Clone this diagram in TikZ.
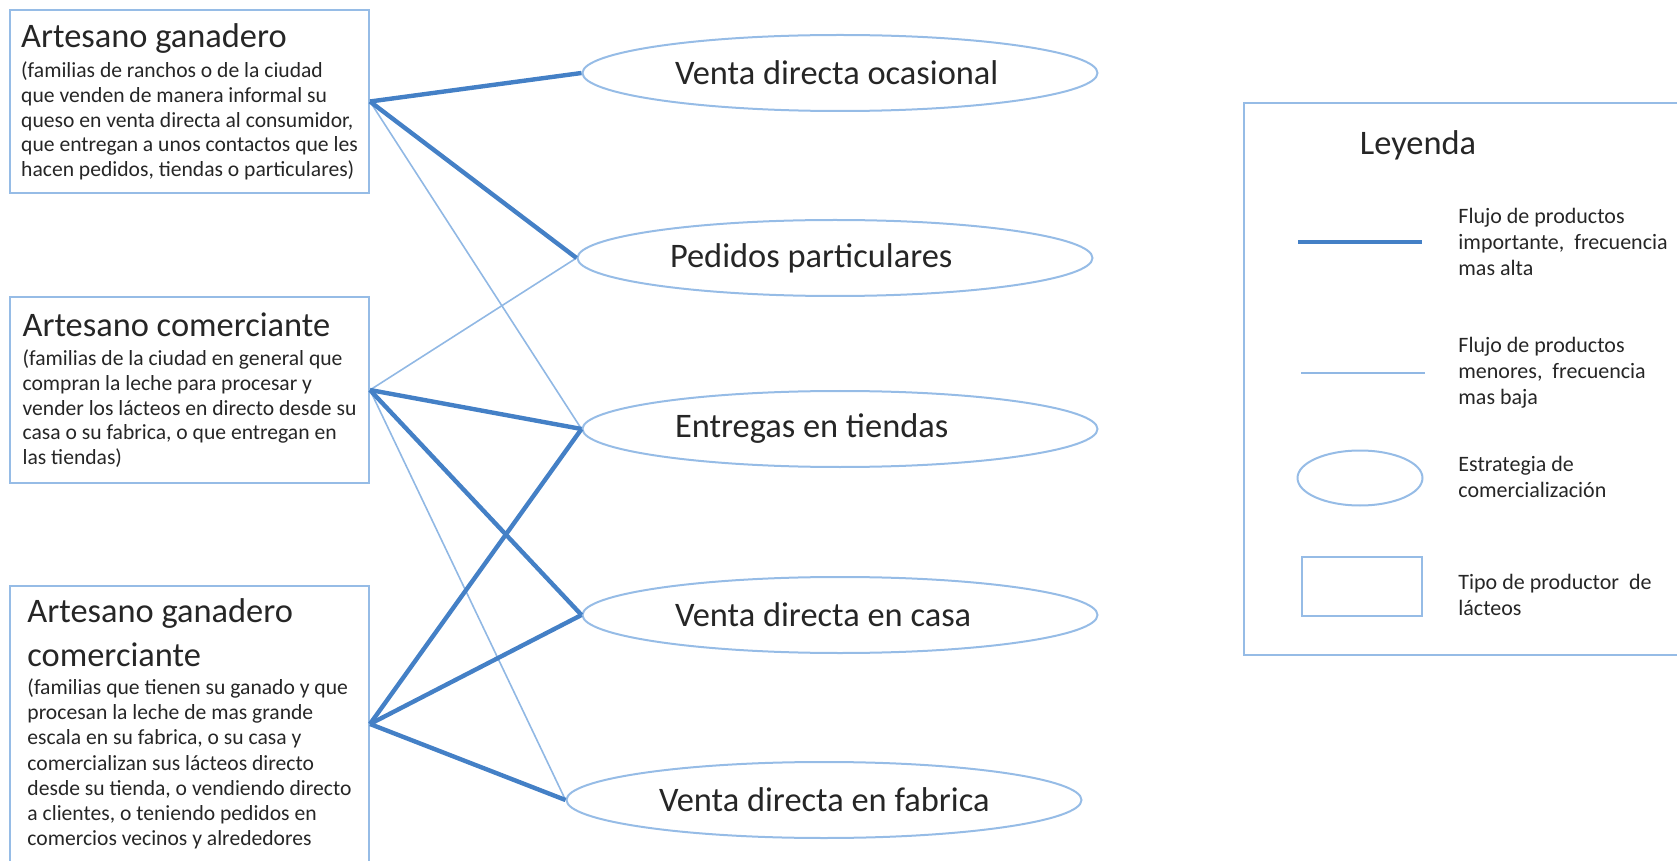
\documentclass[tikz,border=0pt]{standalone}
\usepackage{fontspec}
\setmainfont{Carlito}
\usetikzlibrary{shapes.geometric}
\definecolor{flujofuerte}{RGB}{68,128,198}
\definecolor{flujodebil}{RGB}{145,184,228}
\definecolor{borde}{RGB}{150,188,230}
\definecolor{texto}{RGB}{38,38,38}
\newcommand{\titfont}{\fontsize{17.2}{20}\selectfont}
\newcommand{\subfont}{\fontsize{10.8}{12.3}\selectfont}
\newcommand{\leyfont}{\fontsize{11}{13}\selectfont}
\newcommand{\estr}[1]{\makebox[165pt][l]{#1}}
\begin{document}
\begin{tikzpicture}[x=0.5pt,y=-0.5pt,
    productor/.style={draw=borde,line width=1pt,rectangle,minimum width=179.5pt,align=left,font=\subfont,text=texto,inner sep=0pt},
    estrategia/.style={draw=borde,line width=1pt,ellipse,minimum width=257.5pt,minimum height=38pt,font=\titfont,text=texto,inner sep=0pt},
    fuerte/.style={draw=flujofuerte,line width=2.2pt},
    debil/.style={draw=flujodebil,line width=0.8pt},
    leytxt/.style={anchor=west,align=left,font=\leyfont,text=texto,inner sep=0pt}]
  \useasboundingbox (0,0) rectangle (1677,861);

  \node[productor,minimum height=91.5pt] (ag) at (189.5,101.5) {{\titfont Artesano ganadero}\\[3pt]
    (familias de ranchos o de la ciudad\\ que venden de manera informal su\\ queso en venta directa al consumidor,\\
    que entregan a unos contactos que les\\ hacen pedidos, tiendas o particulares)};
  \node[productor,minimum height=93pt] (ac) at (189.5,390) {{\titfont Artesano comerciante}\\[2.5pt]
    (familias de la ciudad en general que\\ compran la leche para procesar y\\ vender los lácteos en directo desde su\\
    casa o su fabrica, o que entregan en\\ las tiendas)};
  \node[productor,minimum height=138pt,font=\fontsize{10.8}{12.6}\selectfont] (agc) at (189.5,724) {{\titfont Artesano ganadero}\\[6pt]
    {\titfont comerciante}\\[1.5pt]
    (familias que tienen su ganado y que\\ procesan la leche de mas grande\\ escala en su fabrica, o su casa y\\
    comercializan sus lácteos directo\\ desde su tienda, o vendiendo directo\\ a clientes, o teniendo pedidos en\\
    comercios vecinos y alrededores};

  \node[estrategia] (ocasional) at (840,73) {\estr{Venta directa ocasional}};
  \node[estrategia] (pedidos) at (835,258) {\estr{Pedidos particulares}};
  \node[estrategia] (tiendas) at (840,429) {\estr{Entregas en tiendas}};
  \node[estrategia] (casa) at (840,615) {\estr{Venta directa en casa}};
  \node[estrategia] (fabrica) at (824,800) {\estr{Venta directa en fabrica}};

  \draw[debil] (ag.east) -- (tiendas.west);
  \draw[debil] (ac.east) -- (pedidos.west);
  \draw[debil] (ac.east) -- (fabrica.west);
  \draw[fuerte] (ag.east) -- (ocasional.west);
  \draw[fuerte] (ag.east) -- (pedidos.west);
  \draw[fuerte] (ac.east) -- (tiendas.west);
  \draw[fuerte] (ac.east) -- (casa.west);
  \draw[fuerte] (agc.east) -- (tiendas.west);
  \draw[fuerte] (agc.east) -- (casa.west);
  \draw[fuerte] (agc.east) -- (fabrica.west);

  \draw[borde,line width=1pt] (1244,103) rectangle (1700,655);
  \node[font=\titfont,text=texto] (leyenda) at (1418,145) {Leyenda};
  \coordinate (fa) at (1298,242);
  \coordinate (fb) at (1422,242);
  \draw[fuerte] (fa) -- (fb);
  \node[leytxt] (tfuerte) at (1458,242) {Flujo de productos\\ importante,\ \ frecuencia\\ mas alta};
  \coordinate (da) at (1301,373);
  \coordinate (db) at (1425,373);
  \draw[debil] (da) -- (db);
  \node[leytxt] (tdebil) at (1458,373) {Flujo de productos\\ menores,\ \ frecuencia\\ mas baja};
  \node[draw=borde,line width=1pt,ellipse,minimum width=62.5pt,minimum height=27.5pt] (lelipse) at (1360,478) {};
  \node[leytxt] (telipse) at (1458,477) {Estrategia de\\ comercialización};
  \node[draw=borde,line width=1pt,rectangle,minimum width=60pt,minimum height=29.5pt] (lcaja) at (1362,586) {};
  \node[leytxt] (tcaja) at (1458,595) {Tipo de productor\ \ de\\ lácteos};
\end{tikzpicture}
\end{document}
